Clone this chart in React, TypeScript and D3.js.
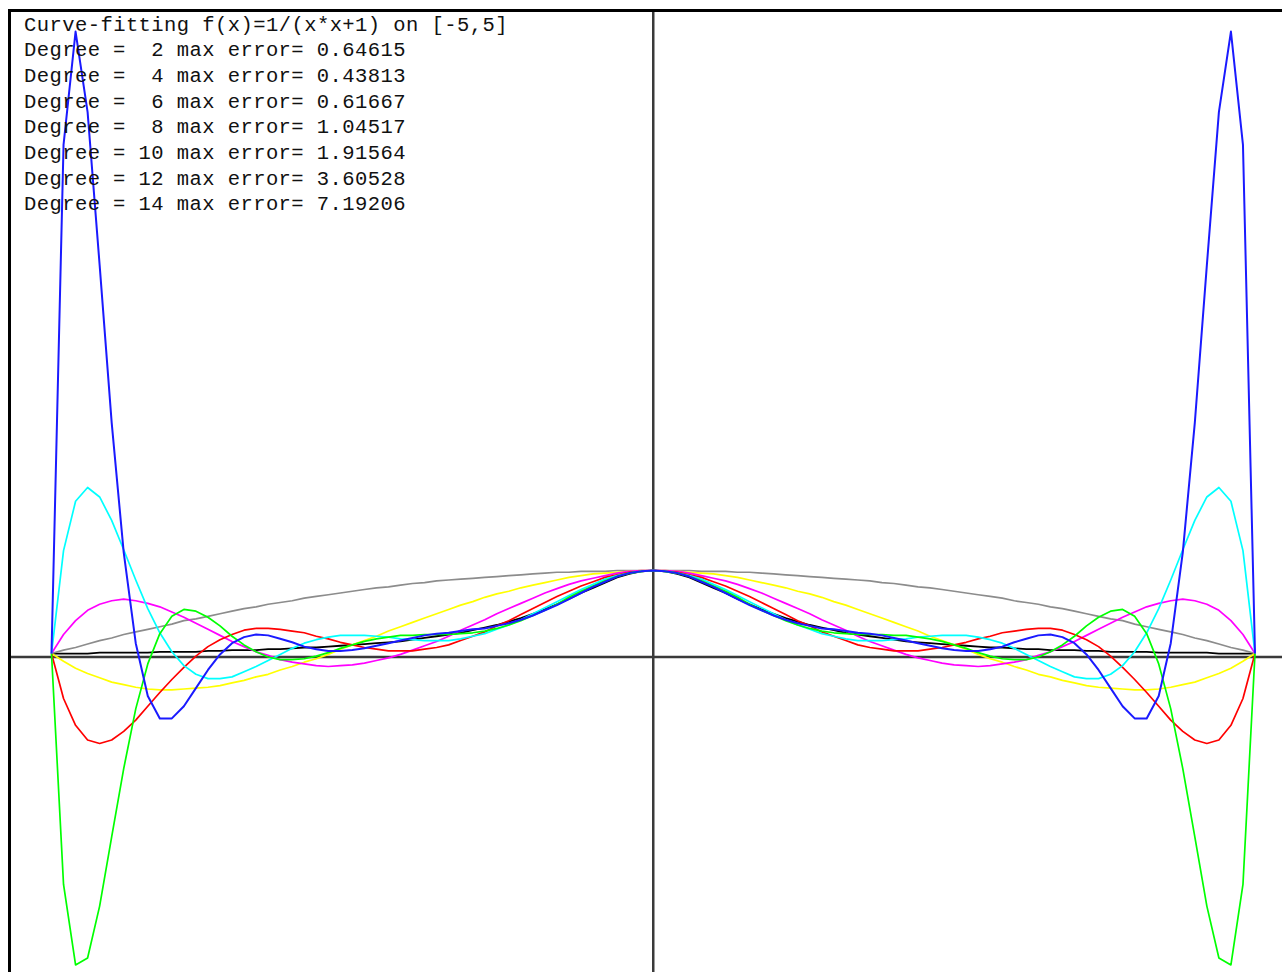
import React from 'react';
import * as d3 from 'd3';

// Sample abscissae: x = -5.0, -4.9, ..., 0.0 (step 0.1). All curves are even, so the
// right half (0.1 .. 5.0) is the mirror image of these values.
const X_LEFT: number[] = d3.range(0, 51).map((k) => +(-5 + k * 0.1).toFixed(1));

// f(x) = 1/(x*x+1)
const F_VALUES = [
  0.04, 0.04, 0.04, 0.04, 0.05, 0.05, 0.05, 0.05, 0.05, 0.06, 0.06, 0.06, 0.06, 0.07, 0.07, 0.08, 0.08,
  0.08, 0.09, 0.09, 0.10, 0.11, 0.11, 0.12, 0.13, 0.14, 0.15, 0.16, 0.17, 0.18, 0.20, 0.22, 0.24, 0.26,
  0.28, 0.31, 0.34, 0.37, 0.41, 0.45, 0.50, 0.55, 0.61, 0.67, 0.74, 0.80, 0.86, 0.92, 0.96, 0.99, 1.00,
];
const DEG2 = [
  0.04, 0.08, 0.11, 0.15, 0.19, 0.22, 0.26, 0.29, 0.32, 0.35, 0.38, 0.42, 0.44, 0.47, 0.50, 0.53, 0.56,
  0.58, 0.61, 0.63, 0.65, 0.68, 0.70, 0.72, 0.74, 0.76, 0.78, 0.80, 0.81, 0.83, 0.85, 0.86, 0.88, 0.89,
  0.90, 0.91, 0.92, 0.93, 0.94, 0.95, 0.96, 0.97, 0.98, 0.98, 0.99, 0.99, 0.99, 1.00, 1.00, 1.00, 1.00,
];
const DEG4 = [
  0.04, -0.05, -0.13, -0.19, -0.24, -0.29, -0.32, -0.35, -0.37, -0.38, -0.38, -0.37, -0.36, -0.35, -0.33,
  -0.30, -0.27, -0.23, -0.20, -0.15, -0.11, -0.06, -0.02, 0.03, 0.09, 0.14, 0.19, 0.24, 0.30, 0.35, 0.40,
  0.45, 0.50, 0.55, 0.60, 0.64, 0.69, 0.73, 0.76, 0.80, 0.83, 0.86, 0.89, 0.92, 0.94, 0.96, 0.97, 0.98,
  0.99, 1.00, 1.00,
];
const DEG6 = [
  0.04, 0.26, 0.42, 0.54, 0.61, 0.65, 0.67, 0.65, 0.62, 0.58, 0.52, 0.46, 0.39, 0.32, 0.25, 0.18, 0.12,
  0.06, 0.02, -0.03, -0.06, -0.08, -0.10, -0.11, -0.10, -0.09, -0.07, -0.04, -0.01, 0.03, 0.08, 0.13,
  0.18, 0.24, 0.31, 0.37, 0.43, 0.50, 0.56, 0.62, 0.68, 0.74, 0.79, 0.84, 0.88, 0.91, 0.94, 0.97, 0.99,
  1.00, 1.00,
];
const DEG8 = [
  0.04, -0.48, -0.79, -0.96, -1.00, -0.96, -0.86, -0.73, -0.57, -0.41, -0.26, -0.12, 0.01, 0.12, 0.20,
  0.26, 0.31, 0.33, 0.33, 0.32, 0.30, 0.28, 0.24, 0.21, 0.17, 0.14, 0.11, 0.09, 0.07, 0.07, 0.07, 0.09,
  0.11, 0.14, 0.19, 0.24, 0.29, 0.36, 0.42, 0.49, 0.56, 0.63, 0.70, 0.76, 0.82, 0.87, 0.92, 0.95, 0.98,
  0.99, 1.00,
];
const DEG10 = [
  0.04, 1.23, 1.80, 1.96, 1.85, 1.58, 1.24, 0.89, 0.56, 0.28, 0.06, -0.10, -0.20, -0.25, -0.25, -0.23,
  -0.17, -0.11, -0.04, 0.03, 0.10, 0.16, 0.20, 0.23, 0.25, 0.25, 0.25, 0.24, 0.23, 0.21, 0.20, 0.19,
  0.19, 0.19, 0.21, 0.24, 0.27, 0.32, 0.37, 0.43, 0.50, 0.57, 0.64, 0.71, 0.78, 0.84, 0.90, 0.94, 0.97,
  0.99, 1.00,
];
const DEG12 = [
  0.04, -2.63, -3.56, -3.48, -2.88, -2.08, -1.29, -0.60, -0.08, 0.27, 0.47, 0.55, 0.53, 0.46, 0.36, 0.24,
  0.14, 0.06, 0.00, -0.03, -0.03, -0.02, 0.01, 0.05, 0.10, 0.14, 0.18, 0.21, 0.23, 0.25, 0.25, 0.26,
  0.26, 0.26, 0.27, 0.28, 0.30, 0.33, 0.37, 0.42, 0.48, 0.54, 0.61, 0.69, 0.76, 0.82, 0.88, 0.93, 0.97,
  0.99, 1.00,
];
const DEG14 = [
  0.04, 5.92, 7.23, 6.30, 4.53, 2.71, 1.21, 0.16, -0.45, -0.71, -0.71, -0.57, -0.36, -0.15, 0.03, 0.16,
  0.23, 0.26, 0.25, 0.21, 0.17, 0.12, 0.09, 0.07, 0.07, 0.08, 0.10, 0.13, 0.16, 0.19, 0.22, 0.25, 0.27,
  0.28, 0.30, 0.32, 0.33, 0.36, 0.39, 0.43, 0.48, 0.54, 0.60, 0.67, 0.74, 0.81, 0.87, 0.93, 0.97, 0.99,
  1.00,
];

const DEGREES = [2, 4, 6, 8, 10, 12, 14];
const MAX_ERRORS = ['0.64615', '0.43813', '0.61667', '1.04517', '1.91564', '3.60528', '7.19206'];
const SERIES_VALUES = [DEG2, DEG4, DEG6, DEG8, DEG10, DEG12, DEG14];
const SERIES_COLORS = ['#8c8c8c', '#ffff00', '#ff00ff', '#ff0000', '#00ffff', '#00ff00', '#1a1aff'];
const TITLE = 'Curve-fitting f(x)=1/(x*x+1) on [-5,5]';

type Pt = [number, number];
function mirrored(values: number[]): Pt[] {
  const left: Pt[] = X_LEFT.map((x, i) => [x, values[i]]);
  const right: Pt[] = X_LEFT.slice(0, 50)
    .map((x, i) => [-x, values[i]] as Pt)
    .reverse();
  return [...left, ...right];
}

export default function App() {
  const W = 1282;
  const H = 972;
  const x = d3.scaleLinear().domain([-5, 5]).range([51.5, 1255]);
  const y = d3.scaleLinear().domain([0, 1]).range([657, 570.5]);
  const line = d3
    .line<Pt>()
    .x((d) => x(d[0]))
    .y((d) => y(d[1]));

  const labels = [
    TITLE,
    ...DEGREES.map(
      (d, i) => `Degree = ${String(d).padStart(2, ' ')} max error= ${MAX_ERRORS[i]}`
    ),
  ];

  return (
    <svg
      width={W}
      height={H}
      style={{ position: 'absolute', left: 0, top: 0, display: 'block', background: '#fff' }}
    >
      <rect x={0} y={0} width={W} height={H} fill="#fff" />
      {/* window frame */}
      <rect x={8} y={9} width={W - 8} height={3} fill="#000" />
      <rect x={8} y={9} width={3} height={H - 9} fill="#000" />
      {/* axes */}
      <line x1={11} x2={W} y1={y(0)} y2={y(0)} stroke="#3a3a3a" strokeWidth={2.5} />
      <line x1={x(0)} x2={x(0)} y1={12} y2={H} stroke="#3a3a3a" strokeWidth={2.5} />
      {/* the function itself */}
      <path
        d={line(mirrored(F_VALUES)) || ''}
        fill="none"
        stroke="#000"
        strokeWidth={1.8}
      />
      {/* interpolating polynomials */}
      {SERIES_VALUES.map((vals, i) => (
        <path
          key={i}
          d={line(mirrored(vals)) || ''}
          fill="none"
          stroke={SERIES_COLORS[i]}
          strokeWidth={i === 6 ? 2 : 1.7}
          strokeLinejoin="round"
        />
      ))}
      {/* labels */}
      {labels.map((t, i) => (
        <text
          key={i}
          x={24}
          y={30.5 + i * 25.7}
          fontFamily="'Liberation Mono', 'Courier New', monospace"
          fontSize={20.5}
          fill="#111"
          textLength={t.length * 12.75 - 1}
          lengthAdjust="spacing"
          style={{ whiteSpace: 'pre' }}
        >
          {t}
        </text>
      ))}
    </svg>
  );
}
